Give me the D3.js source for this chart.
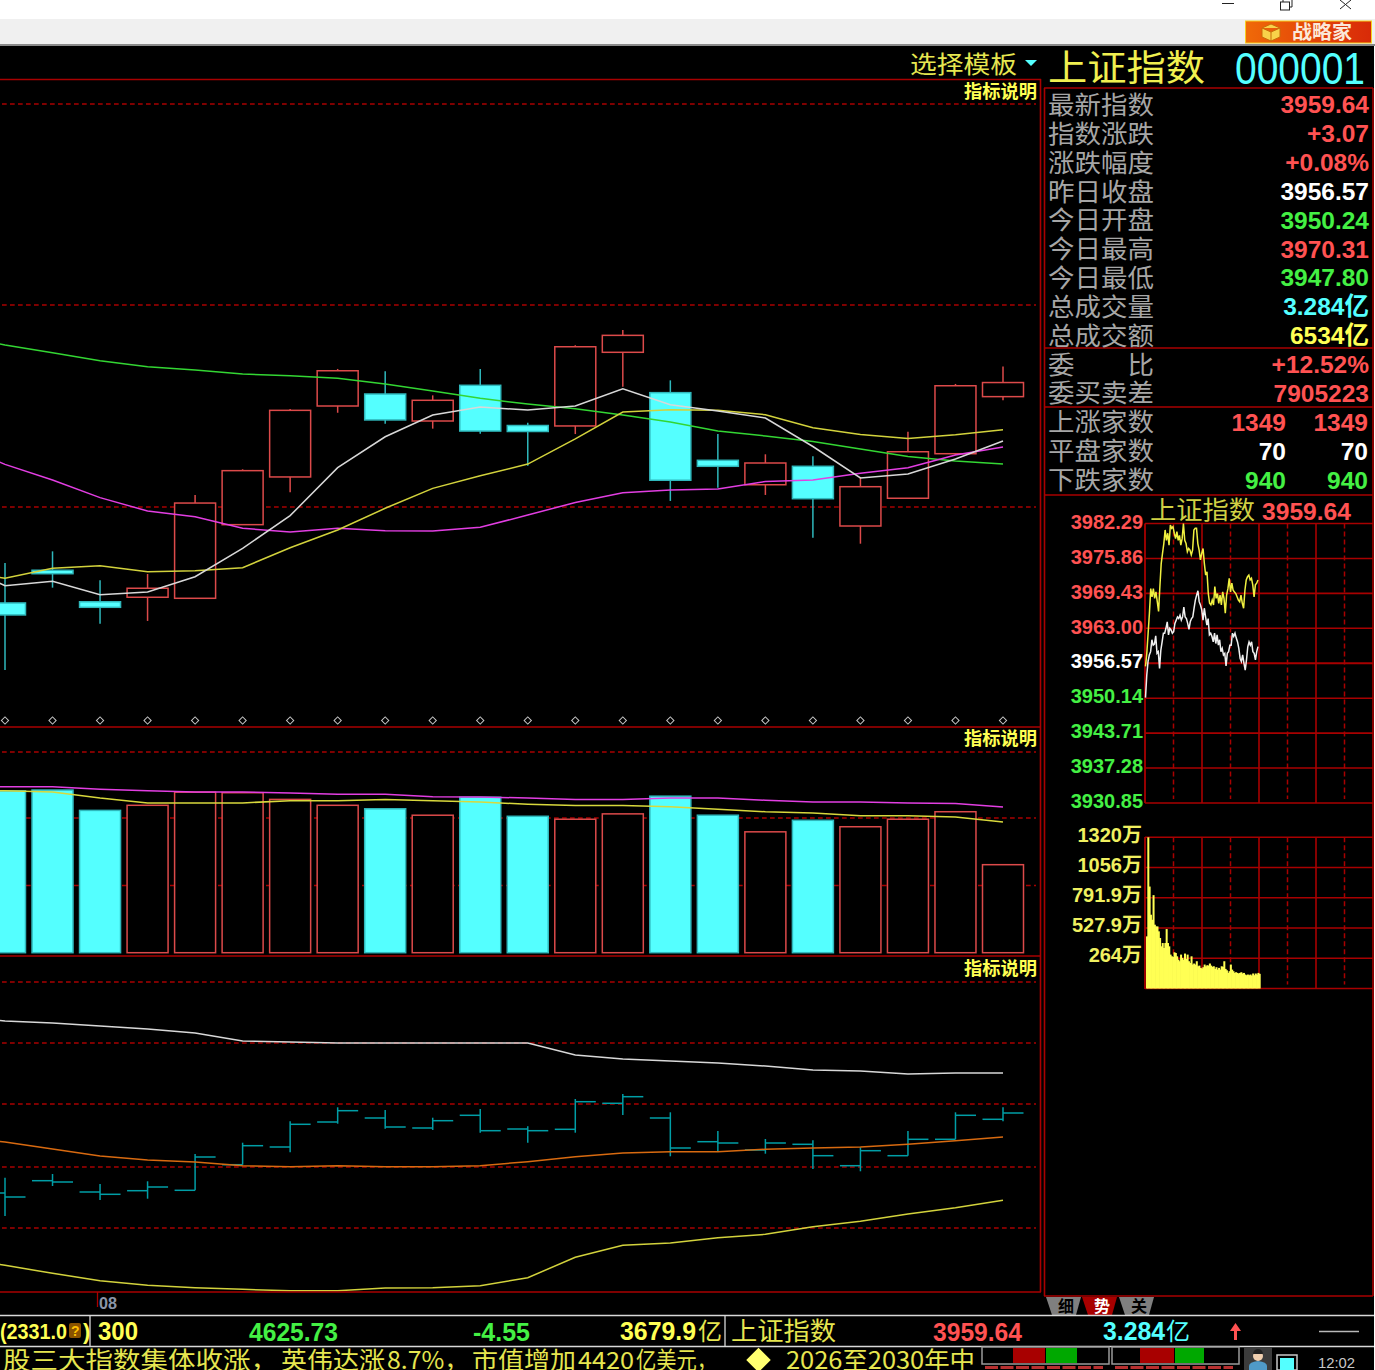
<!DOCTYPE html>
<html>
<head>
<meta charset="utf-8">
<script src="https://cdn.jsdelivr.net/npm/d3@7"></script>
<style>
  html, body { margin: 0; padding: 0; background: #fff; }
  svg { display: block; }
</style>
</head>
<body>
<script>
// candles, index points
const opens  = [3812.7,3834.5,3813.5,3816.5,3815.8,3864.9,3896.7,3944,3952,3934,3957.8,3931,3930.7,3979.8,3952.9,3907.8,3891.5,3903.8,3864,3882.5,3912.2,3950.24];
const closes = [3804.7,3832.2,3809.8,3822.5,3879.3,3900.9,3941.1,3967.5,3934.7,3947.8,3927.3,3927,3983.5,3991.1,3894.5,3903.8,3906,3882.2,3890.2,3913.5,3957.5,3959.64];
const highs  = [3839.3,3847.1,3827.8,3832,3884.7,3901.8,3942,3968.7,3967.1,3951.1,3968.7,3932.8,3984.5,3994.7,3961.1,3925.3,3911.8,3910.5,3896.7,3926.9,3958.7,3970.31];
const lows   = [3768,3822.9,3798.9,3800.7,3815.8,3864.9,3886.5,3939.5,3932.2,3928.9,3925.5,3904.2,3925.3,3956.9,3880.7,3889.5,3884.7,3856.2,3852.2,3882.5,3911.3,3947.8];

// moving averages, first value is the bar just off the left edge
const maWhite   = [3839.3,3824.2,3827.1,3818.2,3820,3830.2,3849.1,3870.9,3902.9,3923.5,3938,3943.3,3941.3,3944,3955.5,3944.9,3940.7,3936,3917,3896,3898.7,3908.7,3920.7];
const maYellow  = [3834.7,3829.1,3835.8,3837.5,3833.5,3834.2,3836.2,3849.5,3861.3,3875.8,3889.1,3897.5,3905.3,3922.1,3940,3941.5,3941.1,3938.2,3929.5,3925,3922.3,3924.8,3928.1];
const maGreen   = [3991.3,3984.7,3979.5,3974.2,3970.2,3968,3965.3,3964.2,3962.5,3958.7,3954,3949.1,3945.3,3942.2,3938,3933.3,3927.3,3924,3920.3,3915.3,3910.3,3907.3,3905.3];
const maMagenta = [3918,3905.1,3894.7,3882.9,3874,3870.2,3862.5,3860,3862.5,3860.9,3860.7,3863.1,3871.3,3879.7,3886.1,3888,3888.7,3893.7,3894.7,3899.1,3902.9,3911.3,3916.7];
const priceGrid = [4145.3,4011.3,3876.7];

// volume panel (yi)
const volumes  = [6.04,6.07,5.31,5.5,5.99,5.97,5.72,5.5,5.37,5.13,5.8,5.09,4.98,5.18,5.84,5.13,4.51,4.94,4.7,4.98,5.26,3.284];
const volMagenta = [6.2,6.19,6.19,6.1,6.04,6,6,5.96,5.91,5.91,5.82,5.81,5.77,5.72,5.72,5.77,5.77,5.69,5.62,5.62,5.59,5.57,5.44];
const volYellow  = [6.05,6.04,6,5.77,5.59,5.59,5.59,5.67,5.67,5.72,5.67,5.62,5.54,5.49,5.49,5.45,5.35,5.26,5.21,5.11,5.11,5.06,4.88];
const volGrid = [7.49,5.03,2.51];

// lower indicator panel
const indOpen  = [-26,-13.7,-25,-23.7,-23.3,2.3,20,45,49,39,51.7,38,37.7,63.7,49,25.3,17,22.7,1.3,11.3,27.7,47.7];
const indClose = [-30,-15,-27.3,-20,10,21.3,42.7,56.3,40,46.3,36.3,36.3,65.3,70.3,19,24,24,11.3,16.3,27.7,51.7,54];
const indHigh  = [-10.7,-7,-17,-14.3,13,24.3,45.7,59.7,57,49.3,58,40.7,68,73,54.7,36,28,26.7,19.7,36,54.7,59.7];
const indLow   = [-49,-19,-33,-31.7,-23.3,2.3,14.7,43.3,38.3,37,34.3,24.3,34.3,52,10.7,15.3,13.3,-2,-4.3,11.3,27.7,45.7];
const indWhite  = [150,146,144,141,138,134,126,125,124,124,124,124,124,112,108,106,104,101,97,96,93,94,94];
const indOrange = [30,25,18,11,7,5,1.3,0.3,1.3,0.3,0.3,1.3,5.3,10.3,14,15.3,15.3,17.7,19,20,22.7,26.3,30];
const indYellow = [-90,-98.3,-106.3,-113.7,-118.3,-120.7,-122.3,-123.7,-123.7,-121,-120.7,-118.7,-110.7,-90.3,-78.3,-76,-70.7,-67.3,-59.7,-54.3,-47,-40.7,-33.3];
const indGrid = [185,124,63,0,-61];

// quote table
const statLabels = ["最新指数","指数涨跌","涨跌幅度","昨日收盘","今日开盘","今日最高","今日最低","总成交量","总成交额","委　　比","委买卖差","上涨家数","平盘家数","下跌家数"];
const statValues = ["3959.64","+3.07","+0.08%","3956.57","3950.24","3970.31","3947.80","3.284亿","6534亿","+12.52%","7905223","1349","70","940"];
const statSecond = ["","","","","","","","","","","","1349","70","940"];
const statTones  = ["up","up","up","flat","down","up","down","vol","amt","up","up","up","flat","down"];

// intraday
const dayTicks = [3982.29,3975.86,3969.43,3963.00,3956.57,3950.14,3943.71,3937.28,3930.85];
const dayWhite = [3950.24,3954.4,3956.9,3958.1,3958.7,3960.9,3959.9,3960.1,3961.6,3958.4,3958.7,3955.6,3959,3960.5,3962.1,3962.1,3963,3964.2,3961.8,3963,3962.7,3962.1,3962.4,3963.9,3964.5,3965.1,3964.8,3965.4,3964.5,3965.1,3966.9,3965.1,3964.8,3963.9,3962.8,3964.2,3964.8,3965.1,3966.7,3968.2,3969.1,3969.9,3967.9,3967.3,3966.4,3964.5,3966.7,3965.1,3963.6,3964.8,3961.8,3962.1,3961.5,3960.5,3962.1,3960.2,3961.8,3959.9,3960.9,3958.7,3959.3,3958.1,3958.4,3956.1,3958.4,3958.7,3959.9,3959.9,3962.1,3961.5,3962.1,3961.2,3960.5,3959.3,3957.5,3956.9,3958.1,3956.6,3955.3,3957.2,3959.6,3960.5,3959.9,3960.5,3958.7,3958.4,3957.2,3958.7,3959.64];
const dayYellow = [3956,3958.4,3962.1,3965.8,3970.3,3968.8,3970.3,3968.5,3969.7,3967.9,3966.1,3970.7,3974.9,3976.8,3978.6,3981.1,3979.2,3980.5,3978.3,3982,3981.4,3981.7,3980.5,3979.5,3980.8,3979.2,3980.1,3978.3,3979.5,3982.3,3979.2,3978.6,3977.1,3977.7,3977.4,3976.5,3977.4,3981.1,3981.4,3981.4,3978.6,3977.4,3975.6,3976.8,3977.7,3974.9,3972.8,3973.4,3969.4,3967.6,3967.3,3968.2,3967.3,3970.7,3968.5,3969.4,3967.6,3969.1,3967.3,3969.7,3968.5,3965.8,3969.1,3970.3,3972.2,3969.7,3971.3,3970,3969.7,3969.4,3968.8,3968.2,3967.9,3969.1,3967.6,3966.7,3970,3971.9,3972.5,3972.8,3971.9,3972.2,3971,3968.8,3971,3971.3,3971.9];
const dayVolTicks = [1320,1056,791.9,527.9,264];
const dayVolLabels = ["1320万","1056万","791.9万","527.9万","264万"];
const dayVolumes = [455,1320,890,644,600,815,557,542,542,499,441,368,397,354,397,519,397,368,296,281,276,316,310,281,252,238,296,267,252,305,258,296,238,223,281,209,218,209,238,194,200,180,174,186,209,194,203,200,218,200,189,194,171,186,165,180,165,194,189,238,171,159,136,151,209,165,151,136,142,136,131,136,142,131,136,122,116,122,116,122,113,131,116,131,122,136,128];

const svg = d3.select("body").append("svg").attr("width", 1375).attr("height", 1370)
  .style("font-family", "'Liberation Sans', 'Noto Sans CJK SC', sans-serif");

const RED = "#ff5252", GREEN = "#44f044", CYAN = "#54ffff", YEL = "#ffff54", FRAME = "#a80000";
const CJK = "'Noto Sans CJK SC', sans-serif";
const toneColor = {up: RED, flat: "#ffffff", down: GREEN, vol: CYAN, amt: YEL};

function label(x, y, str, size, color, opts) {
  opts = opts || {};
  const t = svg.append("text").attr("x", x).attr("y", y).attr("dy", "0.36em")
    .attr("font-size", size).attr("fill", color).text(str);
  t.attr("font-weight", opts.weight || "bold");
  if (opts.anchor) t.attr("text-anchor", opts.anchor);
  if (opts.cjk) t.style("font-family", CJK);
  if (opts.len) t.attr("textLength", opts.len).attr("lengthAdjust", "spacingAndGlyphs");
  return t;
}
function hline(y, x1, x2, color, w, dash) {
  svg.append("line").attr("x1", x1).attr("x2", x2).attr("y1", y).attr("y2", y)
    .attr("stroke", color).attr("stroke-width", w).attr("stroke-dasharray", dash || null);
}
function vline(x, y1, y2, color, w, dash) {
  svg.append("line").attr("x1", x).attr("x2", x).attr("y1", y1).attr("y2", y2)
    .attr("stroke", color).attr("stroke-width", w).attr("stroke-dasharray", dash || null);
}

// window chrome
svg.append("rect").attr("width", 1375).attr("height", 19).attr("fill", "#fff");
svg.append("rect").attr("y", 19).attr("width", 1375).attr("height", 25).attr("fill", "#f0f0f0");
svg.append("rect").attr("y", 44).attr("width", 1375).attr("height", 2).attr("fill", "#8a8a8a");
svg.append("rect").attr("y", 46).attr("width", 1374).attr("height", 1324).attr("fill", "#000");
hline(3.5, 1222, 1234, "#222", 1);
svg.append("rect").attr("x", 1280.5).attr("y", 2).attr("width", 9).attr("height", 8).attr("fill", "#fff").attr("stroke", "#222");
svg.append("path").attr("d", "M1283 2V0M1292 0V7H1290").attr("fill", "none").attr("stroke", "#222");
svg.append("path").attr("d", "M1340 0L1351 9M1351 0L1340 9").attr("fill", "none").attr("stroke", "#222");

const grad = svg.append("defs").append("linearGradient").attr("id", "btn");
grad.append("stop").attr("offset", "0").attr("stop-color", "#f06a08");
grad.append("stop").attr("offset", "0.6").attr("stop-color", "#e24008");
grad.append("stop").attr("offset", "1").attr("stop-color", "#d82a08");
svg.append("rect").attr("x", 1245.5).attr("y", 21).attr("width", 126).attr("height", 22)
  .attr("fill", "url(#btn)").attr("stroke", "#f8d020");
svg.append("path").attr("d", "M1262 28l9-4 9 4v9l-9 4-9-4zM1262 28l9 4 9-4M1271 32v9")
  .attr("fill", "#f8d24a").attr("stroke", "#c96a08");
label(1292, 32.5, "战略家", 19, "#fbe8d8", {cjk: true, len: 60});

// candlestick panel
const xBar = d3.scaleLinear().domain([0, 21]).range([5, 1003]);
const BODY = 41;
const yPrice = d3.scaleLinear().domain([3730, 4162]).range([727, 79]);
const yVol = d3.scaleLinear().domain([0, 8.5]).range([952.7, 724.9]);
const yInd = d3.scaleLinear().domain([-125, 211]).range([1292, 956]);
const bars = d3.range(opens.length);

svg.append("clipPath").attr("id", "left").append("rect").attr("width", 1039).attr("height", 1370);
const left = svg.append("g").attr("clip-path", "url(#left)");

const isUp = i => closes[i] >= opens[i];
const upStroke = "#dc4a4a", dnStroke = "#2fb8bc";

function gridLines(ticks, scale) {
  left.append("g").selectAll("line").data(ticks).join("line")
    .attr("x1", 2).attr("x2", 1036)
    .attr("y1", d => scale(d)).attr("y2", d => scale(d))
    .attr("stroke", FRAME).attr("stroke-width", 1.5).attr("stroke-dasharray", "4.7 3.3");
}
function drawLine(values, scale, color, w) {
  const gen = d3.line().x((d, i) => xBar(i - 1)).y(d => scale(d));
  left.append("path").attr("d", gen(values)).attr("fill", "none")
    .attr("stroke", color).attr("stroke-width", w || 1.5);
}

gridLines(priceGrid, yPrice);

left.append("g").selectAll("line").data(bars).join("line")
  .attr("x1", xBar).attr("x2", xBar)
  .attr("y1", i => yPrice(highs[i])).attr("y2", i => yPrice(lows[i]))
  .attr("stroke", i => isUp(i) ? upStroke : dnStroke).attr("stroke-width", 1.5);

left.append("g").selectAll("rect").data(bars).join("rect")
  .attr("x", i => xBar(i) - BODY / 2).attr("width", BODY)
  .attr("y", i => yPrice(Math.max(opens[i], closes[i])))
  .attr("height", i => Math.abs(yPrice(opens[i]) - yPrice(closes[i])))
  .attr("fill", i => isUp(i) ? "#000" : CYAN)
  .attr("stroke", i => isUp(i) ? upStroke : dnStroke).attr("stroke-width", 1.5);

drawLine(maGreen, yPrice, "#33d633");
drawLine(maMagenta, yPrice, "#e23ee2");
drawLine(maYellow, yPrice, "#d2d23c");
drawLine(maWhite, yPrice, "#d8d8d8");

const diamond = d3.symbol().type(d3.symbolSquare).size(26);
left.append("g").selectAll("path").data(bars).join("path")
  .attr("d", diamond)
  .attr("transform", i => "translate(" + xBar(i) + ",720.5) rotate(45)")
  .attr("fill", "none").attr("stroke", "#c8c8c8").attr("stroke-width", 1);

// volume panel
gridLines(volGrid, yVol);
left.append("g").selectAll("rect").data(bars).join("rect")
  .attr("x", i => xBar(i) - BODY / 2).attr("width", BODY)
  .attr("y", i => yVol(volumes[i]))
  .attr("height", i => yVol(0) - yVol(volumes[i]))
  .attr("fill", i => isUp(i) ? "#000" : CYAN)
  .attr("stroke", i => isUp(i) ? upStroke : dnStroke).attr("stroke-width", 1.5);
drawLine(volMagenta, yVol, "#e23ee2");
drawLine(volYellow, yVol, "#d8d83c");

// indicator panel
gridLines(indGrid, yInd);
const teal = "#009ea6";
const ind = left.append("g").attr("stroke", teal).attr("stroke-width", 1.5);
ind.selectAll(".v").data(bars).join("line").attr("class", "v")
  .attr("x1", xBar).attr("x2", xBar)
  .attr("y1", i => yInd(indHigh[i])).attr("y2", i => yInd(indLow[i]));
ind.selectAll(".o").data(bars).join("line").attr("class", "o")
  .attr("x1", i => xBar(i) - BODY / 2).attr("x2", xBar)
  .attr("y1", i => yInd(indOpen[i])).attr("y2", i => yInd(indOpen[i]));
ind.selectAll(".c").data(bars).join("line").attr("class", "c")
  .attr("x1", xBar).attr("x2", i => xBar(i) + BODY / 2)
  .attr("y1", i => yInd(indClose[i])).attr("y2", i => yInd(indClose[i]));
drawLine(indWhite, yInd, "#d8d8d8");
drawLine(indOrange, yInd, "#d86a10");
drawLine(indYellow, yInd, "#d2d23c");

// frames of left side
hline(79.5, 0, 1041, FRAME, 1.6);
hline(727, 0, 1041, FRAME, 1.6);
hline(956, 0, 1041, FRAME, 1.6);
hline(1292, 0, 1041, FRAME, 1.6);
vline(1040.5, 79, 1292, FRAME, 1.6);
[92, 739, 969].forEach(y => label(964, y, "指标说明", 18, YEL, {cjk: true, len: 73}));

// header
label(910, 64, "选择模板", 24, "#e6e650", {cjk: true, weight: "normal", len: 107});
svg.append("path").attr("d", d3.line()([[1025, 60], [1037, 60], [1031, 66]])).attr("fill", CYAN);
label(1048, 68, "上证指数", 36, "#f0f050", {cjk: true, weight: "normal", len: 157});
label(1235, 68, "000001", 44, CYAN, {weight: "normal", len: 130});

// quote table
hline(88, 1044, 1373, FRAME, 1.6);
hline(348, 1044, 1373, FRAME, 1.6);
hline(407, 1044, 1373, FRAME, 1.6);
hline(495, 1044, 1373, FRAME, 1.6);
hline(1296, 1044, 1373, FRAME, 1.6);
vline(1044.5, 88, 1296, FRAME, 1.6);
vline(1373, 88, 1296, FRAME, 1.6);

const yRow = d3.scalePoint().domain(statLabels).range([105, 480]);
statLabels.forEach((s, i) => {
  label(1048, yRow(s), s, 25, "#a6a6a6", {cjk: true, weight: "normal", len: 106});
  const c = toneColor[statTones[i]];
  if (statSecond[i]) {
    label(1286, yRow(s), statValues[i], 24.5, c, {anchor: "end"});
    label(1368, yRow(s), statSecond[i], 24.5, c, {anchor: "end"});
  } else {
    label(1369, yRow(s) - 0.5, statValues[i], 24.5, c, {anchor: "end"});
  }
});

// intraday chart
label(1150, 510, "上证指数", 25, "#d0d044", {cjk: true, weight: "normal", len: 105});
label(1262, 511, "3959.64", 24, RED, {len: 89});

const yDay = d3.scalePoint().domain(dayTicks).range([523.5, 803]);
const yDayPrice = d3.scaleLinear().domain([3930.85, 3982.29]).range([803, 523.5]);
const xGrid = d3.scaleLinear().domain([0, 8]).range([1145, 1373]);
const gridCols = d3.range(1, 8);

function dayGrid(top, bottom) {
  gridCols.forEach(k => {
    if (k % 2) vline(xGrid(k), top, bottom - 4, FRAME, 1.5, "5 3");
    else vline(xGrid(k), top, bottom, FRAME, 1.6);
  });
}
dayGrid(523.5, 803);
dayTicks.forEach(d => {
  const y = yDay(d);
  hline(y, 1145, 1373, FRAME, d === 3956.57 ? 2.2 : 1.6);
  const col = d > 3956.57 ? RED : d < 3956.57 ? GREEN : "#ffffff";
  label(1143, y - 2, d.toFixed(2), 20, col, {anchor: "end"});
});
vline(1145, 523.5, 803, FRAME, 1.8);

const xDay = arr => d3.scaleLinear().domain([0, arr.length - 1]).range([1145.5, 1258]);
const xY = xDay(dayYellow), xW = xDay(dayWhite);
svg.append("path").attr("fill", "none").attr("stroke", "#f0f040").attr("stroke-width", 1.5)
  .attr("d", d3.line().x((d, i) => xY(i)).y(d => yDayPrice(d))(dayYellow));
svg.append("path").attr("fill", "none").attr("stroke", "#f0f0f0").attr("stroke-width", 1.5)
  .attr("d", d3.line().x((d, i) => xW(i)).y(d => yDayPrice(d))(dayWhite));

// intraday volume
const yDayVol = d3.scaleLinear().domain([0, 1320]).range([988.5, 837.3]);
dayGrid(837.3, 988.5);
hline(988.5, 1145, 1373, FRAME, 1.6);
hline(837.3, 1145, 1373, FRAME, 1.6);
[1056, 791.9, 527.9, 264].forEach(d => hline(yDayVol(d), 1145, 1373, FRAME, 1.6));
vline(1145, 837, 989, FRAME, 1.8);
const xDayVol = d3.scaleBand().domain(d3.range(dayVolumes.length)).range([1146, 1260]);
svg.append("g").selectAll("rect").data(dayVolumes).join("rect")
  .attr("x", (d, i) => xDayVol(i)).attr("width", xDayVol.bandwidth() + 0.7)
  .attr("y", d => yDayVol(d)).attr("height", d => yDayVol(0) - yDayVol(d))
  .attr("fill", "#ffff54");
dayVolLabels.forEach((s, i) => label(1142, yDayVol(dayVolTicks[i]) - 3, s, 20, "#f0f060", {anchor: "end"}));

// tabs
const tabs = [["细", 1046, "#7f7f7f", "#000"], ["势", 1082, "#a80000", "#fff"], ["关", 1119, "#7f7f7f", "#000"]];
tabs.forEach(t => {
  svg.append("path").attr("d", d3.line()([[t[1], 1297], [t[1] + 35, 1297], [t[1] + 30, 1315], [t[1] + 6, 1315]])).attr("fill", t[2]);
  label(t[1] + 20, 1306, t[0], 16, t[3], {cjk: true, anchor: "middle"});
});

// time axis
vline(97.5, 1292, 1307, FRAME, 1.3);
label(99, 1303, "08", 16, "#8a96a8", {len: 18});

// status rows
hline(1315.5, 0, 1374, "#d8d8d8", 1.5);
hline(1346.5, 0, 1374, "#d8d8d8", 1.5);
vline(90, 1316, 1346, "#d8d8d8", 1.3);
vline(725, 1316, 1346, "#d8d8d8", 1.3);
label(0, 1331, "(2331.0", 22, YEL, {len: 67});
svg.append("rect").attr("x", 69).attr("y", 1323).attr("width", 12).attr("height", 15).attr("rx", 2).attr("fill", "#8a5200");
label(71, 1331, "?", 14, "#ffc000");
label(83, 1331, ")", 22, YEL);
label(98, 1331, "300", 25, YEL, {len: 40});
label(249, 1332, "4625.73", 25, GREEN, {len: 89});
label(473, 1332, "-4.55", 25, GREEN, {len: 57});
label(620, 1331, "3679.9", 25, YEL, {len: 76});
label(698, 1331, "亿", 24, "#e6e650", {cjk: true, weight: "normal"});
label(731, 1331, "上证指数", 25, "#e6e650", {cjk: true, weight: "normal", len: 105});
label(933, 1332, "3959.64", 25, RED, {len: 89});
label(1103, 1331, "3.284", 25, CYAN, {len: 62});
label(1166, 1331, "亿", 24, CYAN, {cjk: true, weight: "normal"});
svg.append("path").attr("d", "M1235.5 1323l5.5 8h-4v9h-3v-9h-4z").attr("fill", RED);
hline(1331.5, 1319, 1359, "#b8b8b8", 1.5);

// news ticker, split so each run sits where it does on screen
const tickerRuns = ["股三大指数集体收涨，", "英伟达涨", "8.7%，", "市值增加", "4420", "亿美元，"];
const tickerFrom = [3, 281, 387, 472, 578, 636];
const tickerLen  = [275, 104, 82, 104, 56, 81];
tickerRuns.forEach((s, i) => label(tickerFrom[i], 1360, s, 24, "#e6e650", {cjk: true, weight: "normal", len: tickerLen[i]}));
svg.append("path").attr("d", d3.symbol().type(d3.symbolSquare).size(300)).attr("transform", "translate(758.5,1360) rotate(45)").attr("fill", "#ffff70");
label(786, 1360, "2026至2030年中", 24, "#e6e650", {cjk: true, weight: "normal", len: 189});

// mini index boxes
[[982, 127, 1013, 1045, 1077], [1112, 127, 1140, 1174, 1204]].forEach(b => {
  svg.append("rect").attr("x", b[0]).attr("y", 1347).attr("width", b[1]).attr("height", 17)
    .attr("fill", "#000").attr("stroke", "#9a9a9a").attr("stroke-width", 1.5);
  svg.append("rect").attr("x", b[2]).attr("y", 1348).attr("width", b[3] - b[2]).attr("height", 15).attr("fill", "#a80000");
  svg.append("rect").attr("x", b[3] + 1).attr("y", 1348).attr("width", b[4] - b[3] - 1).attr("height", 15).attr("fill", "#00a800");
  hline(1367.5, b[0] + 3, b[0] + b[1] - 6, "#b83030", 3, "13 2.5");
});

// user icon, square, clock
svg.append("rect").attr("x", 1244).attr("y", 1347).attr("width", 28).attr("height", 23).attr("fill", "#3c3c3c");
svg.append("circle").attr("cx", 1258).attr("cy", 1356).attr("r", 5).attr("fill", "#f0cfb0");
svg.append("path").attr("d", "M1253 1354a5 5 0 0 1 10 0z").attr("fill", "#222");
svg.append("path").attr("d", "M1249 1370v-4q0-4 9-5q9 1 9 5v4z").attr("fill", "#4f9ac8");
svg.append("rect").attr("x", 1277).attr("y", 1355).attr("width", 20).attr("height", 15)
  .attr("fill", "#000").attr("stroke", "#c8c8c8").attr("stroke-width", 1.5);
svg.append("rect").attr("x", 1280).attr("y", 1358).attr("width", 14).attr("height", 12).attr("fill", CYAN);
label(1318, 1362.5, "12:02", 14, "#c8c8c8", {weight: "normal", len: 37});
</script>
</body>
</html>
